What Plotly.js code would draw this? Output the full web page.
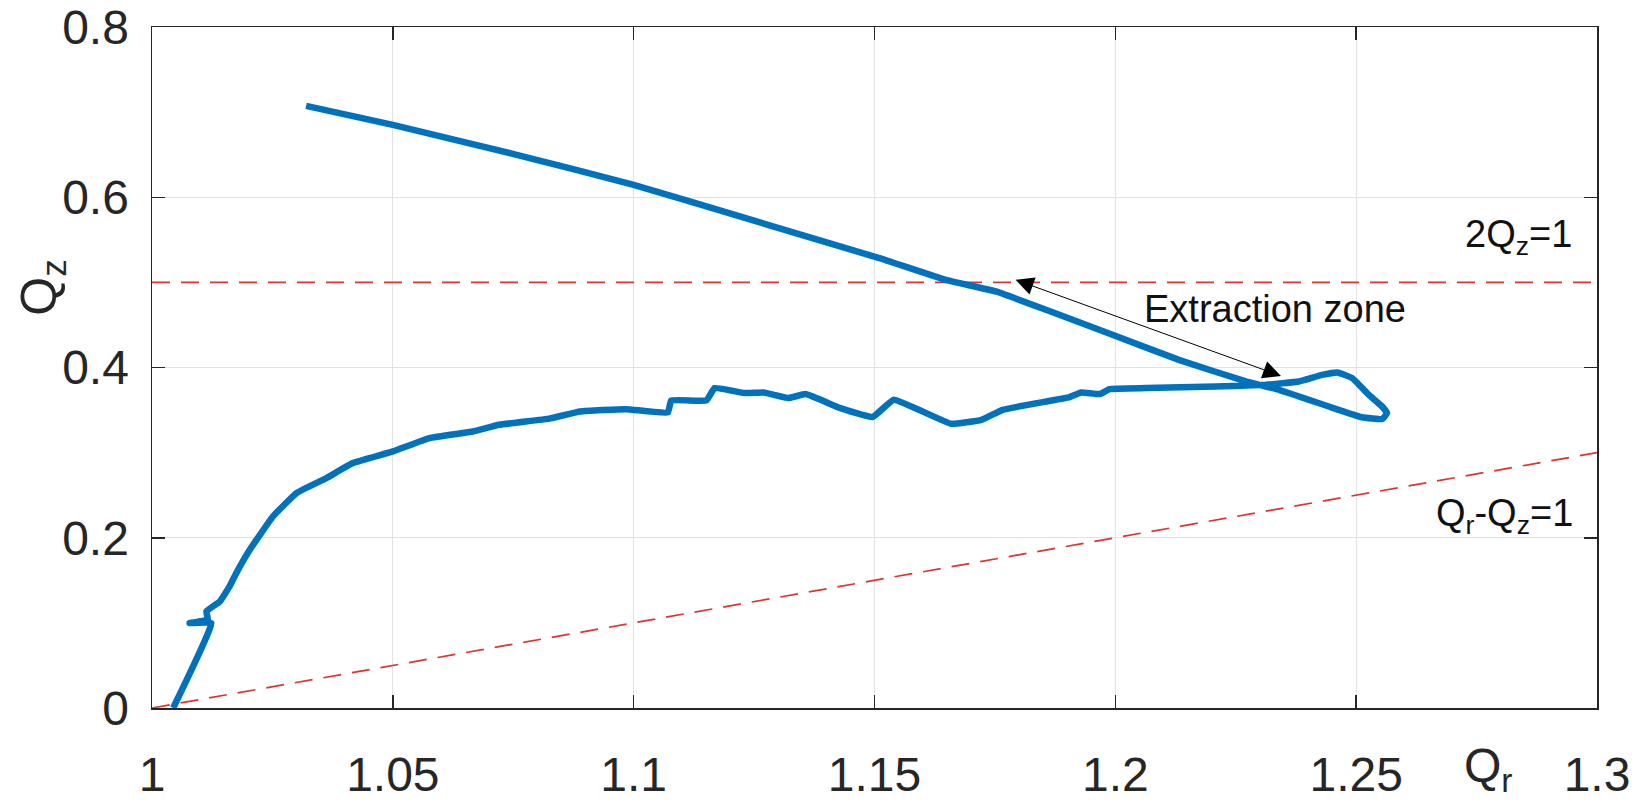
<!DOCTYPE html>
<html>
<head>
<meta charset="utf-8">
<script src="https://cdn.plot.ly/plotly-3.0.1.min.js"></script>
<style>html,body{margin:0;padding:0;background:#fff;}#chart{width:1650px;height:803px;}</style>
</head>
<body>
<div id="chart"></div>
<script>
// Tune trajectory (Q_r, Q_z), in drawing order
const qr = [1.0044, 1.0123, 1.0078, 1.0116, 1.0113, 1.0141, 1.0161, 1.0175, 1.0203, 1.0251, 1.0300, 1.0362, 1.0417, 1.0500, 1.0576, 1.0666, 1.0721, 1.0825, 1.0889, 1.0984, 1.1071, 1.1078, 1.1151, 1.1168, 1.1230, 1.1270, 1.1321, 1.1357, 1.1429, 1.1496, 1.1540, 1.1659, 1.1722, 1.1766, 1.1905, 1.1929, 1.1968, 1.1988, 1.2064, 1.2208, 1.2312, 1.2381, 1.2429, 1.2461, 1.2492, 1.2526, 1.2554, 1.2564, 1.2554, 1.2512, 1.2443, 1.2340, 1.2271, 1.2132, 1.1994, 1.1856, 1.1752, 1.1648, 1.1510, 1.1250, 1.1000, 1.0749, 1.0500, 1.0320];
const qz = [0.0000, 0.0998, 0.0998, 0.1037, 0.1135, 0.1252, 0.1428, 0.1585, 0.1859, 0.2250, 0.2525, 0.2701, 0.2877, 0.3014, 0.3171, 0.3248, 0.3327, 0.3400, 0.3483, 0.3511, 0.3472, 0.3613, 0.3613, 0.3758, 0.3700, 0.3707, 0.3641, 0.3688, 0.3523, 0.3418, 0.3621, 0.3339, 0.3386, 0.3503, 0.3652, 0.3707, 0.3688, 0.3746, 0.3758, 0.3777, 0.3797, 0.3836, 0.3914, 0.3942, 0.3875, 0.3680, 0.3542, 0.3464, 0.3394, 0.3415, 0.3542, 0.3738, 0.3836, 0.4090, 0.4384, 0.4678, 0.4893, 0.5030, 0.5285, 0.5725, 0.6146, 0.6510, 0.6850, 0.7073];

// Resonance lines
const resX = [1.0, 1.3];
const res2Qz = [0.5, 0.5];         // 2Qz = 1
const resDiff = [0.0, 0.3];        // Qr - Qz = 1

// Axis ticks
const xTicks = [1, 1.05, 1.1, 1.15, 1.2, 1.25, 1.3];
const xTickText = ['1', '1.05', '1.1', '1.15', '1.2', '1.25', '1.3'];
const yTicks = [0, 0.2, 0.4, 0.6, 0.8];
const yTickText = ['0', '0.2', '0.4', '0.6', '0.8'];

// Extraction zone arrow ends
const arrowStart = [1.1793, 0.503];
const arrowEnd = [1.2347, 0.3894];

const FONT = 'Liberation Sans, Arial, Helvetica, sans-serif';
const TXT = '#262626';
const RED = 'rgb(218,52,52)';

const traces = [
  {x: resX, y: res2Qz, mode: 'lines', line: {color: RED, width: 1.7, dash: '18px,11px'}, hoverinfo: 'skip'},
  {x: resX, y: resDiff, mode: 'lines', line: {color: RED, width: 1.7, dash: '18px,11px'}, hoverinfo: 'skip'},
  {x: qr, y: qz, mode: 'lines', line: {color: '#0072BD', width: 6.5, shape: 'spline', smoothing: 0.3}, hoverinfo: 'skip'}
];

const axisCommon = {
  showline: true, linecolor: TXT, linewidth: 1.5, mirror: 'ticks',
  ticks: 'inside', ticklen: 13, tickwidth: 1.5, tickcolor: TXT,
  showgrid: true, gridcolor: '#e2e2e2', gridwidth: 1, zeroline: false,
  tickfont: {family: FONT, size: 48, color: TXT}
};

const layout = {
  width: 1650, height: 803,
  margin: {l: 152, r: 53, t: 27, b: 95},
  paper_bgcolor: '#fff', plot_bgcolor: '#fff',
  showlegend: false,
  xaxis: Object.assign({}, axisCommon, {range: [1, 1.3], tickmode: 'array', tickvals: xTicks, ticktext: xTickText, ticklabelstandoff: 24}),
  yaxis: Object.assign({}, axisCommon, {range: [0, 0.8], tickmode: 'array', tickvals: yTicks, ticktext: yTickText, ticklabelstandoff: 12}),
  annotations: [
    {x: arrowStart[0], y: arrowStart[1], ax: arrowEnd[0], ay: arrowEnd[1], xref: 'x', yref: 'y', axref: 'x', ayref: 'y',
     text: '', showarrow: true, arrowside: 'end+start', arrowhead: 2, arrowsize: 3.6, arrowwidth: 1, arrowcolor: '#000'},
    {x: 1.2056, y: 0.469, xref: 'x', yref: 'y', xanchor: 'left', yanchor: 'middle', showarrow: false,
     text: 'Extraction zone', font: {family: FONT, size: 38, color: '#111'}},
    {x: 1.2952, y: 0.553, xref: 'x', yref: 'y', xanchor: 'right', yanchor: 'middle', showarrow: false,
     text: '2Q<sub>z</sub>=1', font: {family: FONT, size: 38, color: '#111'}},
    {x: 1.2955, y: 0.225, xref: 'x', yref: 'y', xanchor: 'right', yanchor: 'middle', showarrow: false,
     text: 'Q<sub>r</sub>-Q<sub>z</sub>=1', font: {family: FONT, size: 38, color: '#111'}},
    {x: 1.2775, y: -0.09, xref: 'x', yref: 'paper', xanchor: 'center', yanchor: 'middle', showarrow: false,
     text: 'Q<sub>r</sub>', font: {family: FONT, size: 48, color: TXT}},
    {x: -0.076, y: 0.494, xref: 'paper', yref: 'y', xanchor: 'center', yanchor: 'middle', showarrow: false, textangle: -90,
     text: 'Q<sub>z</sub>', font: {family: FONT, size: 50, color: TXT}}
  ]
};

Plotly.newPlot('chart', traces, layout, {staticPlot: true, displayModeBar: false});
</script>
</body>
</html>
